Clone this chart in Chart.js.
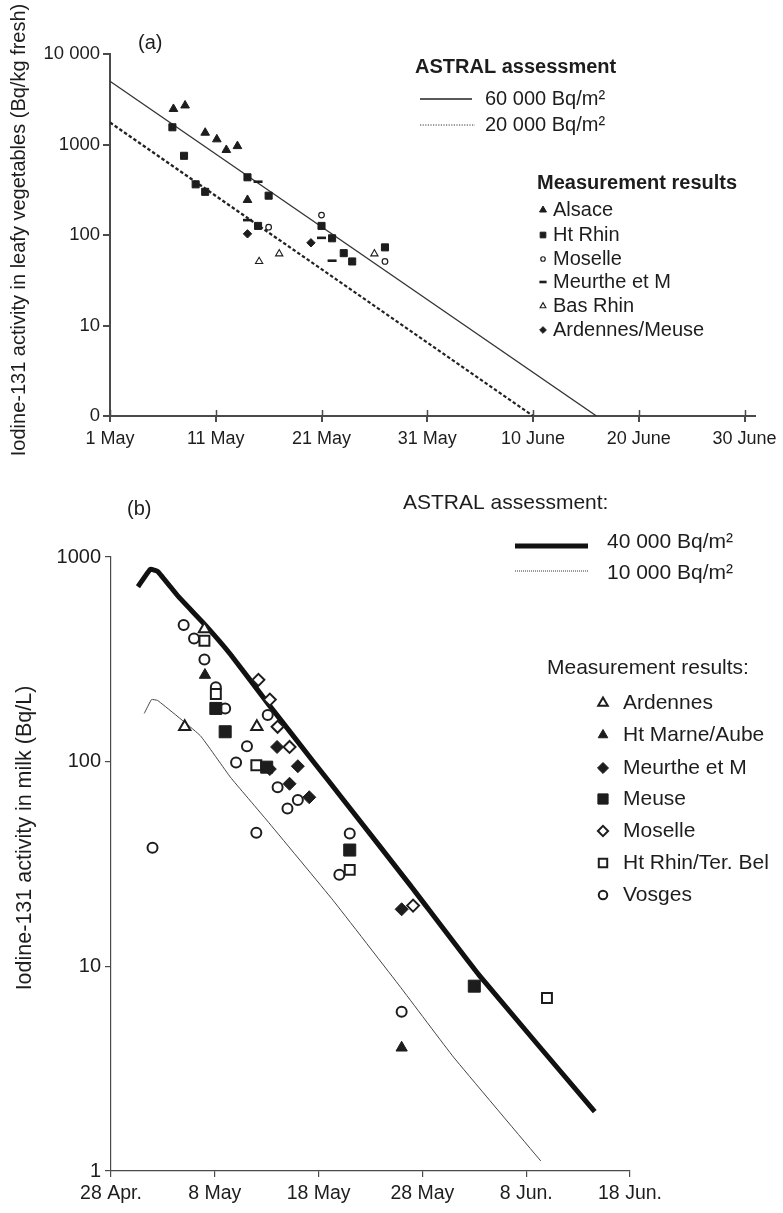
<!DOCTYPE html>
<html>
<head>
<meta charset="utf-8">
<script src="https://cdn.jsdelivr.net/npm/chart.js@4.4.1/dist/chart.umd.min.js"></script>
<style>
  html, body { margin: 0; padding: 0; background: #fff; }
  #wrap { position: relative; width: 783px; height: 1213px; overflow: hidden; background: #fff; }
  #vegChart { position: absolute; left: 0; top: 0; width: 783px; height: 460px; }
  #milkChart { position: absolute; left: 0; top: 460px; width: 783px; height: 753px; }
</style>
</head>
<body>
<div id="wrap">
  <canvas id="vegChart" width="783" height="460"></canvas>
  <canvas id="milkChart" width="783" height="753"></canvas>
</div>
<script>
const FONT = "'Liberation Sans', Arial, Helvetica, sans-serif";
const INK = '#1d1d1d';

// ---------- (a) Iodine-131 in leafy vegetables ----------
// x = days after 1 May
const vegDayTicks = [0, 10, 20, 30, 40, 50, 60];
const vegDayLabels = ['1 May', '11 May', '21 May', '31 May', '10 June', '20 June', '30 June'];
const vegValueTicks = [1, 10, 100, 1000, 10000];
const vegValueLabels = ['0', '10', '100', '1000', '10 000'];

const astral60Days = [0, 46];
const astral60Vals = [5000, 1];
const astral20Days = [0, 40];
const astral20Vals = [1750, 1];

const alsaceDays = [6, 7.1, 9, 10.1, 11, 12.05, 13];
const alsaceVals = [2470, 2700, 1350, 1140, 870, 960, 244];
const htRhinDays = [5.9, 7, 8.1, 9, 13, 15, 14, 20, 21, 22.1, 22.9, 26];
const htRhinVals = [1550, 750, 363, 300, 434, 272, 126, 126, 92, 63, 51, 73];
const moselleVegDays = [20, 15, 26];
const moselleVegVals = [166, 122, 51];
const meurtheVegDays = [14, 13, 20, 21];
const meurtheVegVals = [388, 146, 93, 52];
const basRhinDays = [14.1, 16, 25];
const basRhinVals = [51, 62, 62];
const ardMeuseDays = [13, 19];
const ardMeuseVals = [103, 82];

// ---------- (b) Iodine-131 in milk ----------
// x = days after 28 April
const milkDayTicks = [0, 10, 20, 30, 40, 50];
const milkDayLabels = ['28 Apr.', '8 May', '18 May', '28 May', '8 Jun.', '18 Jun.'];
const milkValueTicks = [1, 10, 100, 1000];
const milkValueLabels = ['1', '10', '100', '1000'];

const astral40Days = [2.6, 3.8, 4.5, 6.5, 9.0, 11.5, 15.2, 19.5, 22.4, 28.8, 35.5, 46.6];
const astral40Vals = [716, 871, 850, 640, 470, 335, 190, 100, 65, 25, 9.0, 1.95];
const astral10Days = [3.2, 3.9, 4.5, 8.6, 11.5, 15.0, 21.4, 27.9, 33.0, 41.4];
const astral10Vals = [172, 201, 199, 134, 84, 51.8, 21, 7.9, 3.6, 1.12];

const ardennesDays = [7.1, 14.05, 9.0];
const ardennesVals = [148, 148, 445];
const htMarneDays = [9.05, 28];
const htMarneVals = [265, 4];
const meurtheMilkDays = [16, 15.3, 18, 17.2, 19.1, 28];
const meurtheMilkVals = [118, 92, 95, 78, 67, 19];
const meuseDays = [10.1, 11, 15, 23, 35];
const meuseVals = [182, 140, 94, 37, 8];
const moselleMilkDays = [14.2, 15.3, 16.05, 17.2, 29.1];
const moselleMilkVals = [251, 201, 148, 118, 19.8];
const htRhinBelDays = [9, 10.1, 14, 23, 42];
const htRhinBelVals = [390, 214, 96, 29.6, 7];
const vosgesDays = [7, 8, 9, 10.1, 11, 13.1, 12.05, 15.1, 16.05, 17, 18, 14, 4, 23, 22, 28];
const vosgesVals = [465, 400, 316, 231, 182, 119, 99, 169, 75, 59, 65, 45, 38, 44.6, 28, 6];

const pts = (xs, ys) => xs.map((x, i) => ({ x: x, y: ys[i] }));

function marks(label, xs, ys, style, radius, filled, bw) {
  return {
    label: label,
    data: pts(xs, ys),
    showLine: false,
    pointStyle: style,
    pointRadius: radius,
    pointHoverRadius: radius,
    pointBorderWidth: bw,
    borderWidth: bw,
    pointBackgroundColor: filled ? INK : '#fff',
    pointBorderColor: INK,
    backgroundColor: filled ? INK : '#fff',
    borderColor: INK
  };
}

function curve(label, xs, ys, width, color, dash, tension) {
  return {
    label: label,
    data: pts(xs, ys),
    showLine: true,
    pointRadius: 0,
    borderColor: color,
    borderWidth: width,
    borderDash: dash,
    tension: tension,
    fill: false,
    borderCapStyle: 'butt',
    borderJoinStyle: 'round'
  };
}

function drawMarker(ctx, ds, x, y) {
  ctx.save();
  ctx.fillStyle = ds.pointBackgroundColor;
  ctx.strokeStyle = ds.pointBorderColor;
  ctx.lineWidth = ds.pointBorderWidth;
  Chart.helpers.drawPoint(ctx, {
    pointStyle: ds.pointStyle, radius: ds.pointRadius, rotation: 0, borderWidth: ds.pointBorderWidth
  }, x, y);
  ctx.restore();
}

function text(ctx, str, x, y, size, weight, align) {
  ctx.save();
  ctx.fillStyle = INK;
  ctx.font = (weight || 'normal') + ' ' + size + 'px ' + FONT;
  ctx.textAlign = align || 'left';
  ctx.textBaseline = 'middle';
  ctx.fillText(str, x, y);
  ctx.restore();
}

function vText(ctx, str, x, y, size) {
  ctx.save();
  ctx.translate(x, y);
  ctx.rotate(-Math.PI / 2);
  text(ctx, str, 0, 0, size, 'normal', 'center');
  ctx.restore();
}

function sample(ctx, x1, x2, y, width, dash, color) {
  ctx.save();
  ctx.strokeStyle = color;
  ctx.lineWidth = width;
  ctx.setLineDash(dash);
  ctx.beginPath();
  ctx.moveTo(x1, y);
  ctx.lineTo(x2, y);
  ctx.stroke();
  ctx.restore();
}

function axisCfg(kind, min, max, tickVals, tickLabels, size, tickLen, pad, fitProp, fitVal, borderW) {
  return {
    type: kind,
    min: min,
    max: max,
    afterBuildTicks: s => { s.ticks = tickVals.map(v => ({ value: v })); },
    afterFit: s => { s[fitProp] = fitVal; },
    ticks: {
      callback: (v, i) => tickLabels[i],
      font: { family: FONT, size: size },
      color: INK,
      padding: pad,
      autoSkip: false,
      maxRotation: 0,
      minRotation: 0
    },
    grid: { drawOnChartArea: false, drawTicks: true, tickLength: tickLen, color: '#4a4a4a', lineWidth: borderW },
    border: { display: true, color: '#4a4a4a', width: borderW }
  };
}

// ---------- chart (a) ----------
const vegSets = [
  marks('Alsace', alsaceDays, alsaceVals, 'triangle', 5, true, 1),
  marks('Ht Rhin', htRhinDays, htRhinVals, 'rect', 5, true, 1),
  marks('Moselle', moselleVegDays, moselleVegVals, 'circle', 2.8, false, 1.2),
  marks('Meurthe et M', meurtheVegDays, meurtheVegVals, 'line', 4.5, true, 2.6),
  marks('Bas Rhin', basRhinDays, basRhinVals, 'triangle', 4.2, false, 1.1),
  marks('Ardennes/Meuse', ardMeuseDays, ardMeuseVals, 'rectRot', 4.2, true, 1),
  curve('60 000 Bq/m²', astral60Days, astral60Vals, 1.3, '#333', [], 0),
  curve('20 000 Bq/m²', astral20Days, astral20Vals, 2.2, '#222', [3.5, 2.2], 0)
];

const vegDecor = {
  id: 'vegDecor',
  afterDraw(chart) {
    const ctx = chart.ctx;
    const xs = chart.scales.x;
    const bottom = chart.chartArea.bottom;
    // tick marks reach a little above the time axis too
    ctx.save();
    ctx.strokeStyle = '#4a4a4a';
    ctx.lineWidth = 1.5;
    vegDayTicks.forEach(v => {
      const px = Math.round(xs.getPixelForValue(v)) + 0.5;
      ctx.beginPath();
      ctx.moveTo(px, bottom - 6);
      ctx.lineTo(px, bottom);
      ctx.stroke();
    });
    ctx.restore();

    vText(ctx, 'Iodine-131 activity in leafy vegetables (Bq/kg fresh)', 19, 230, 20);
    text(ctx, '(a)', 138, 43, 20);

    text(ctx, 'ASTRAL assessment', 415, 67, 20, 'bold');
    sample(ctx, 420, 472, 99, 1.5, [], '#222');
    text(ctx, '60 000 Bq/m²', 485, 99, 20);
    sample(ctx, 420, 475, 125, 1.2, [1.2, 1.4], '#333');
    text(ctx, '20 000 Bq/m²', 485, 125, 20);

    text(ctx, 'Measurement results', 537, 183, 20, 'bold');
    const rows = [210, 235, 259, 282, 306, 330];
    for (let i = 0; i < 6; i++) {
      const ds = chart.data.datasets[i];
      drawMarker(ctx, Object.assign({}, ds, { pointRadius: ds.pointRadius * 0.8 }), 543, rows[i]);
      text(ctx, ds.label, 553, rows[i], 20);
    }
  }
};

new Chart(document.getElementById('vegChart'), {
  type: 'scatter',
  data: { datasets: vegSets },
  options: {
    responsive: false,
    animation: false,
    events: [],
    layout: { padding: { left: 0, top: 54, right: 26, bottom: 0 } },
    plugins: { legend: { display: false }, tooltip: { enabled: false } },
    scales: {
      x: axisCfg('linear', 0, 61, vegDayTicks, vegDayLabels, 18, 6, 6, 'height', 44, 2),
      y: axisCfg('logarithmic', 1, 10000, vegValueTicks, vegValueLabels, 18.5, 7, 3, 'width', 110, 2)
    }
  },
  plugins: [vegDecor]
});

// ---------- chart (b) ----------
const milkSets = [
  marks('Ardennes', ardennesDays, ardennesVals, 'triangle', 6.5, false, 2),
  marks('Ht Marne/Aube', htMarneDays, htMarneVals, 'triangle', 6.5, true, 1),
  marks('Meurthe et M', meurtheMilkDays, meurtheMilkVals, 'rectRot', 6.5, true, 1),
  marks('Meuse', meuseDays, meuseVals, 'rect', 8.5, true, 1),
  marks('Moselle', moselleMilkDays, moselleMilkVals, 'rectRot', 6, false, 2),
  marks('Ht Rhin/Ter. Bel', htRhinBelDays, htRhinBelVals, 'rect', 7, false, 2),
  marks('Vosges', vosgesDays, vosgesVals, 'circle', 5, false, 2),
  curve('40 000 Bq/m²', astral40Days, astral40Vals, 5, '#111', [], 0.1),
  curve('10 000 Bq/m²', astral10Days, astral10Vals, 1, '#444', [], 0.1)
];

const milkDecor = {
  id: 'milkDecor',
  afterDraw(chart) {
    const ctx = chart.ctx;
    const off = 460;
    vText(ctx, 'Iodine-131 activity in milk (Bq/L)', 25, 838 - off, 21.5);
    text(ctx, '(b)', 127, 509 - off, 20);

    text(ctx, 'ASTRAL assessment:', 403, 503 - off, 21);
    sample(ctx, 515, 588, 546 - off, 5, [], '#111');
    text(ctx, '40 000 Bq/m²', 607, 542 - off, 21);
    sample(ctx, 515, 588, 571 - off, 1, [1, 1], '#333');
    text(ctx, '10 000 Bq/m²', 607, 573 - off, 21);

    text(ctx, 'Measurement results:', 547, 668 - off, 21);
    const rows = [703, 735, 768, 799, 831, 863, 895];
    for (let i = 0; i < 7; i++) {
      const ds = chart.data.datasets[i];
      drawMarker(ctx, Object.assign({}, ds, { pointRadius: ds.pointRadius * 0.85 }), 603, rows[i] - off);
      text(ctx, ds.label, 623, rows[i] - off, 21);
    }
  }
};

new Chart(document.getElementById('milkChart'), {
  type: 'scatter',
  data: { datasets: milkSets },
  options: {
    responsive: false,
    animation: false,
    events: [],
    layout: { padding: { left: 0, top: 97, right: 153, bottom: 0 } },
    plugins: { legend: { display: false }, tooltip: { enabled: false } },
    scales: {
      x: axisCfg('linear', 0, 50, milkDayTicks, milkDayLabels, 19.5, 6, 5, 'height', 42, 1.2),
      y: axisCfg('logarithmic', 1, 1000, milkValueTicks, milkValueLabels, 20, 6, 4, 'width', 111, 1.2)
    }
  },
  plugins: [milkDecor]
});
</script>
</body>
</html>
